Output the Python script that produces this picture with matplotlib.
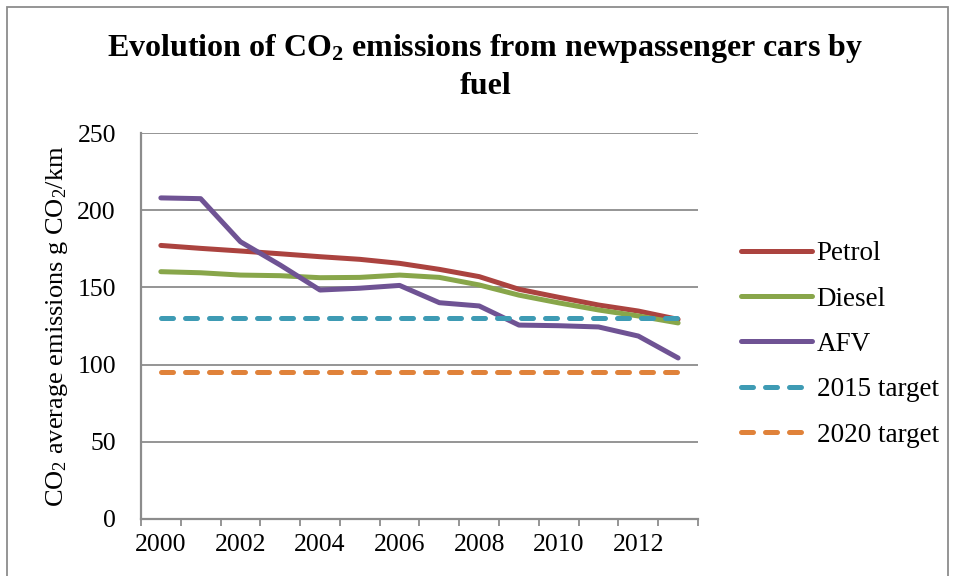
import matplotlib.pyplot as plt
from matplotlib.patches import Rectangle
from matplotlib.ticker import FixedLocator

plt.rcParams['font.family'] = ['Liberation Serif', 'DejaVu Serif']
plt.rcParams['mathtext.fontset'] = 'custom'
plt.rcParams['mathtext.rm'] = 'Liberation Serif'
plt.rcParams['mathtext.it'] = 'Liberation Serif:italic'
plt.rcParams['mathtext.bf'] = 'Liberation Serif:bold'

# Data (g CO2/km)
years = list(range(2000, 2014))
petrol = [177.2, 175.3, 173.6, 171.8, 169.9, 168.2, 165.6, 161.7, 157.0, 148.8, 143.6, 138.6, 134.7, 129.3]
diesel = [160.2, 159.5, 158.0, 157.6, 156.3, 156.5, 158.0, 156.5, 151.6, 145.0, 140.0, 135.4, 131.5, 127.0]
afv = [208.0, 207.5, 179.6, 164.5, 148.3, 149.5, 151.3, 140.1, 138.0, 125.6, 125.2, 124.4, 118.5, 104.3]
target_2015 = [130] * len(years)
target_2020 = [95] * len(years)

tick_years = [2000, 2002, 2004, 2006, 2008, 2010, 2012]

fig = plt.figure(figsize=(9.55, 5.76), dpi=100)
ax = fig.add_axes([0.1476, 0.099, 0.5833, 0.670])

x = list(range(len(years)))
lw = 3.6
ax.plot(x, petrol, color='#AB433F', lw=lw, solid_capstyle='round', label='Petrol', zorder=3)
ax.plot(x, diesel, color='#88A64A', lw=lw, solid_capstyle='round', label='Diesel', zorder=3)
ax.plot(x, afv, color='#6F5394', lw=lw, solid_capstyle='round', label='AFV', zorder=3)
ax.plot(x, target_2015, color='#3E9BB4', lw=lw, dashes=(2.4, 2.4), dash_capstyle='round',
        label='2015 target', zorder=3)
ax.plot(x, target_2020, color='#E0823A', lw=lw, dashes=(2.4, 2.4), dash_capstyle='round',
        label='2020 target', zorder=3)

ax.set_xlim(-0.5, len(years) - 0.5)
ax.set_ylim(0, 250)
ax.set_yticks(range(0, 251, 50))
ax.yaxis.grid(True, color='#8C8C8C', lw=1.3)
ax.set_axisbelow(True)

# category boundaries carry the tick marks, labels sit on the centres
ax.xaxis.set_major_locator(FixedLocator([i - 0.5 for i in range(len(years) + 1)]))
ax.set_xticklabels([])
ax.xaxis.set_minor_locator(FixedLocator([years.index(y) for y in tick_years]))
ax.set_xticklabels([str(y) for y in tick_years], minor=True)
ax.tick_params(axis='x', which='major', length=5, width=1.3, color='#8C8C8C', direction='out')
ax.tick_params(axis='x', which='minor', length=0, pad=11, labelsize=18.5)
ax.tick_params(axis='y', length=0, pad=18, labelsize=18.5)

for side in ['top', 'right']:
    ax.spines[side].set_visible(False)
for side in ['left', 'bottom']:
    ax.spines[side].set_color('#8C8C8C')
    ax.spines[side].set_linewidth(1.6)

ax.set_ylabel('CO$_2$ average emissions g CO$_2$/km', fontsize=19, labelpad=5)

fig.text(0.508, 0.944, 'Evolution of CO$_{\\mathbf{2}}$ emissions from newpassenger cars by\nfuel',
         ha='center', va='top', fontsize=23, fontweight='bold', linespacing=1.3)

ax.legend(loc='center left', bbox_to_anchor=(0.762, 0.402), bbox_transform=fig.transFigure,
          frameon=False, fontsize=19.5, handlelength=2.6, handletextpad=0.18, labelspacing=0.75,
          borderpad=0)

# outer chart border
fig.patches.append(Rectangle((0.007, -0.02), 0.986, 1.008, transform=fig.transFigure,
                             fill=False, edgecolor='#8C8C8C', lw=1.3))

fig.savefig('out.png', dpi=100)
